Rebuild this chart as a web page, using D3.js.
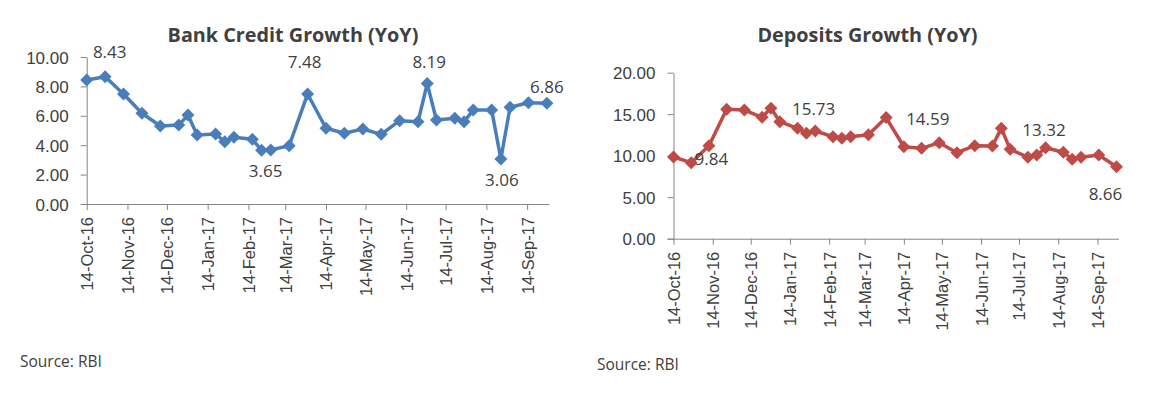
<!DOCTYPE html>
<html>
<head>
<meta charset="utf-8">
<script src="https://cdn.jsdelivr.net/npm/d3@7"></script>
<style>
  body { margin: 0; background: #fff; }
  svg { display: block; font-family: "Open Sans", sans-serif; }
  .axis path, .axis line { stroke: #868686; }
  .axis text { fill: #404040; }
</style>
</head>
<body>
<svg id="chart" width="1168" height="394"></svg>
<script>
// fortnightly reporting dates
var dates = ["2016-10-14", "2016-10-28", "2016-11-11", "2016-11-25", "2016-12-09", "2016-12-23", "2016-12-30",
  "2017-01-06", "2017-01-20", "2017-01-27", "2017-02-03", "2017-02-17", "2017-02-24", "2017-03-03",
  "2017-03-17", "2017-03-31", "2017-04-14", "2017-04-28", "2017-05-12", "2017-05-26", "2017-06-09",
  "2017-06-23", "2017-06-30", "2017-07-07", "2017-07-21", "2017-07-28", "2017-08-04", "2017-08-18",
  "2017-08-25", "2017-09-01", "2017-09-15", "2017-09-29"];

var creditGrowth = [8.43, 8.66, 7.48, 6.17, 5.31, 5.37, 6.05, 4.69, 4.76, 4.24, 4.54, 4.40, 3.65, 3.68,
  3.96, 7.48, 5.15, 4.81, 5.10, 4.74, 5.67, 5.60, 8.19, 5.71, 5.83, 5.60, 6.39, 6.39, 3.06, 6.58, 6.89, 6.86];

var depositGrowth = [9.84, 9.16, 11.2, 15.59, 15.5, 14.63, 15.73, 14.1, 13.3, 12.7, 12.98, 12.29, 12.1, 12.29,
  12.53, 14.59, 11.08, 10.89, 11.57, 10.36, 11.2, 11.17, 13.32, 10.77, 9.81, 10.08, 10.96, 10.41, 9.57, 9.81, 10.08, 8.66];

var monthTicks = ["2016-10-14", "2016-11-14", "2016-12-14", "2017-01-14", "2017-02-14", "2017-03-14",
  "2017-04-14", "2017-05-14", "2017-06-14", "2017-07-14", "2017-08-14", "2017-09-14"];

var creditTicks = [0, 2, 4, 6, 8, 10];
var depositTicks = [0, 5, 10, 15, 20];

// which points carry a value label
var creditLabels = [0, 12, 15, 22, 28, 31];
var depositLabels = [0, 6, 15, 22, 31];

var parse = d3.timeParse("%Y-%m-%d");
var svg = d3.select("#chart");

function drawChart(cfg) {
	var x = d3.scaleTime()
		.domain([parse("2016-10-14"), parse("2017-10-01")])
		.range([cfg.left, cfg.right]);
	var y = d3.scaleLinear()
		.domain([0, cfg.ticks[cfg.ticks.length - 1]])
		.range([cfg.bottom, cfg.top]);

	var g = svg.append("g");

	g.append("text")
		.attr("x", cfg.titleX)
		.attr("y", 41.5)
		.attr("text-anchor", "middle")
		.style("font-size", "19.8px")
		.style("font-weight", "bold")
		.style("fill", "#404040")
		.text(cfg.title);

	// y axis
	var yAxis = g.append("g")
		.attr("class", "axis")
		.attr("transform", "translate(" + cfg.left + ",0)")
		.call(d3.axisLeft(y).tickValues(cfg.ticks).tickFormat(d3.format(".2f")).tickSize(6).tickSizeOuter(0).tickPadding(12));
	yAxis.selectAll("text").style("font-size", "17px").attr("dy", "0.36em");

	// x axis
	var xAxis = g.append("g")
		.attr("class", "axis")
		.attr("transform", "translate(0," + cfg.bottom + ")")
		.call(d3.axisBottom(x).tickValues(monthTicks.map(parse)).tickFormat(d3.timeFormat("%d-%b-%y")).tickSize(6).tickSizeOuter(0));
	xAxis.select(".domain").attr("d", "M" + (cfg.left - 6) + ",0.5H" + cfg.right);
	xAxis.selectAll("text")
		.style("font-family", "'Liberation Sans', Arial, sans-serif")
		.style("font-size", "16.5px")
		.attr("text-anchor", "end")
		.attr("transform", "rotate(-90)")
		.attr("x", -13)
		.attr("y", 0)
		.attr("dy", "0.36em");

	var pts = dates.map(function(d, i) { return { date: parse(d), value: cfg.values[i], i: i }; });

	var line = d3.line()
		.x(function(d) { return x(d.date); })
		.y(function(d) { return y(d.value); });

	g.append("path")
		.datum(pts)
		.attr("d", line)
		.style("fill", "none")
		.style("stroke", cfg.color)
		.style("stroke-width", 3.5)
		.style("stroke-linejoin", "round");

	var r = 6.5;
	g.selectAll(".marker")
		.data(pts)
		.enter().append("path")
		.attr("class", "marker")
		.attr("transform", function(d) { return "translate(" + x(d.date) + "," + y(d.value) + ")"; })
		.attr("d", "M0," + (-r) + "L" + r + ",0L0," + r + "L" + (-r) + ",0Z")
		.style("fill", cfg.color);

	g.selectAll(".vlabel")
		.data(cfg.labels.map(function(i) { return pts[i]; }))
		.enter().append("text")
		.attr("class", "vlabel")
		.attr("x", function(d) { return x(d.date) + cfg.offsets[d.i][0]; })
		.attr("y", function(d) { return y(d.value) + cfg.offsets[d.i][1]; })
		.attr("dy", "0.36em")
		.attr("text-anchor", function(d) { return cfg.offsets[d.i][2] || "middle"; })
		.style("font-size", "17px")
		.style("fill", "#404040")
		.text(function(d) { return d3.format(".2f")(d.value); });

	g.append("text")
		.attr("x", cfg.sourceX)
		.attr("y", cfg.sourceY)
		.style("font-size", "15.5px")
		.style("fill", "#404040")
		.text("Source: RBI");
}

drawChart({
	title: "Bank Credit Growth (YoY)", titleX: 293,
	values: creditGrowth, ticks: creditTicks, labels: creditLabels,
	offsets: { 0: [23, -28], 12: [4, 21], 15: [-3, -32], 22: [2, -22], 28: [1, 21], 31: [0, -16] },
	left: 86.7, right: 549.5, top: 57, bottom: 204,
	color: "#4a7ebb", sourceX: 20, sourceY: 367
});

drawChart({
	title: "Deposits Growth (YoY)", titleX: 867.5,
	values: depositGrowth, ticks: depositTicks, labels: depositLabels,
	offsets: { 0: [21, 2, "start"], 6: [21, 1, "start"], 15: [20, 1.5, "start"], 22: [21, 1.5, "start"], 31: [-11, 27] },
	left: 673.5, right: 1119, top: 72.7, bottom: 238.7,
	color: "#be4b48", sourceX: 597, sourceY: 370
});
</script>
</body>
</html>
